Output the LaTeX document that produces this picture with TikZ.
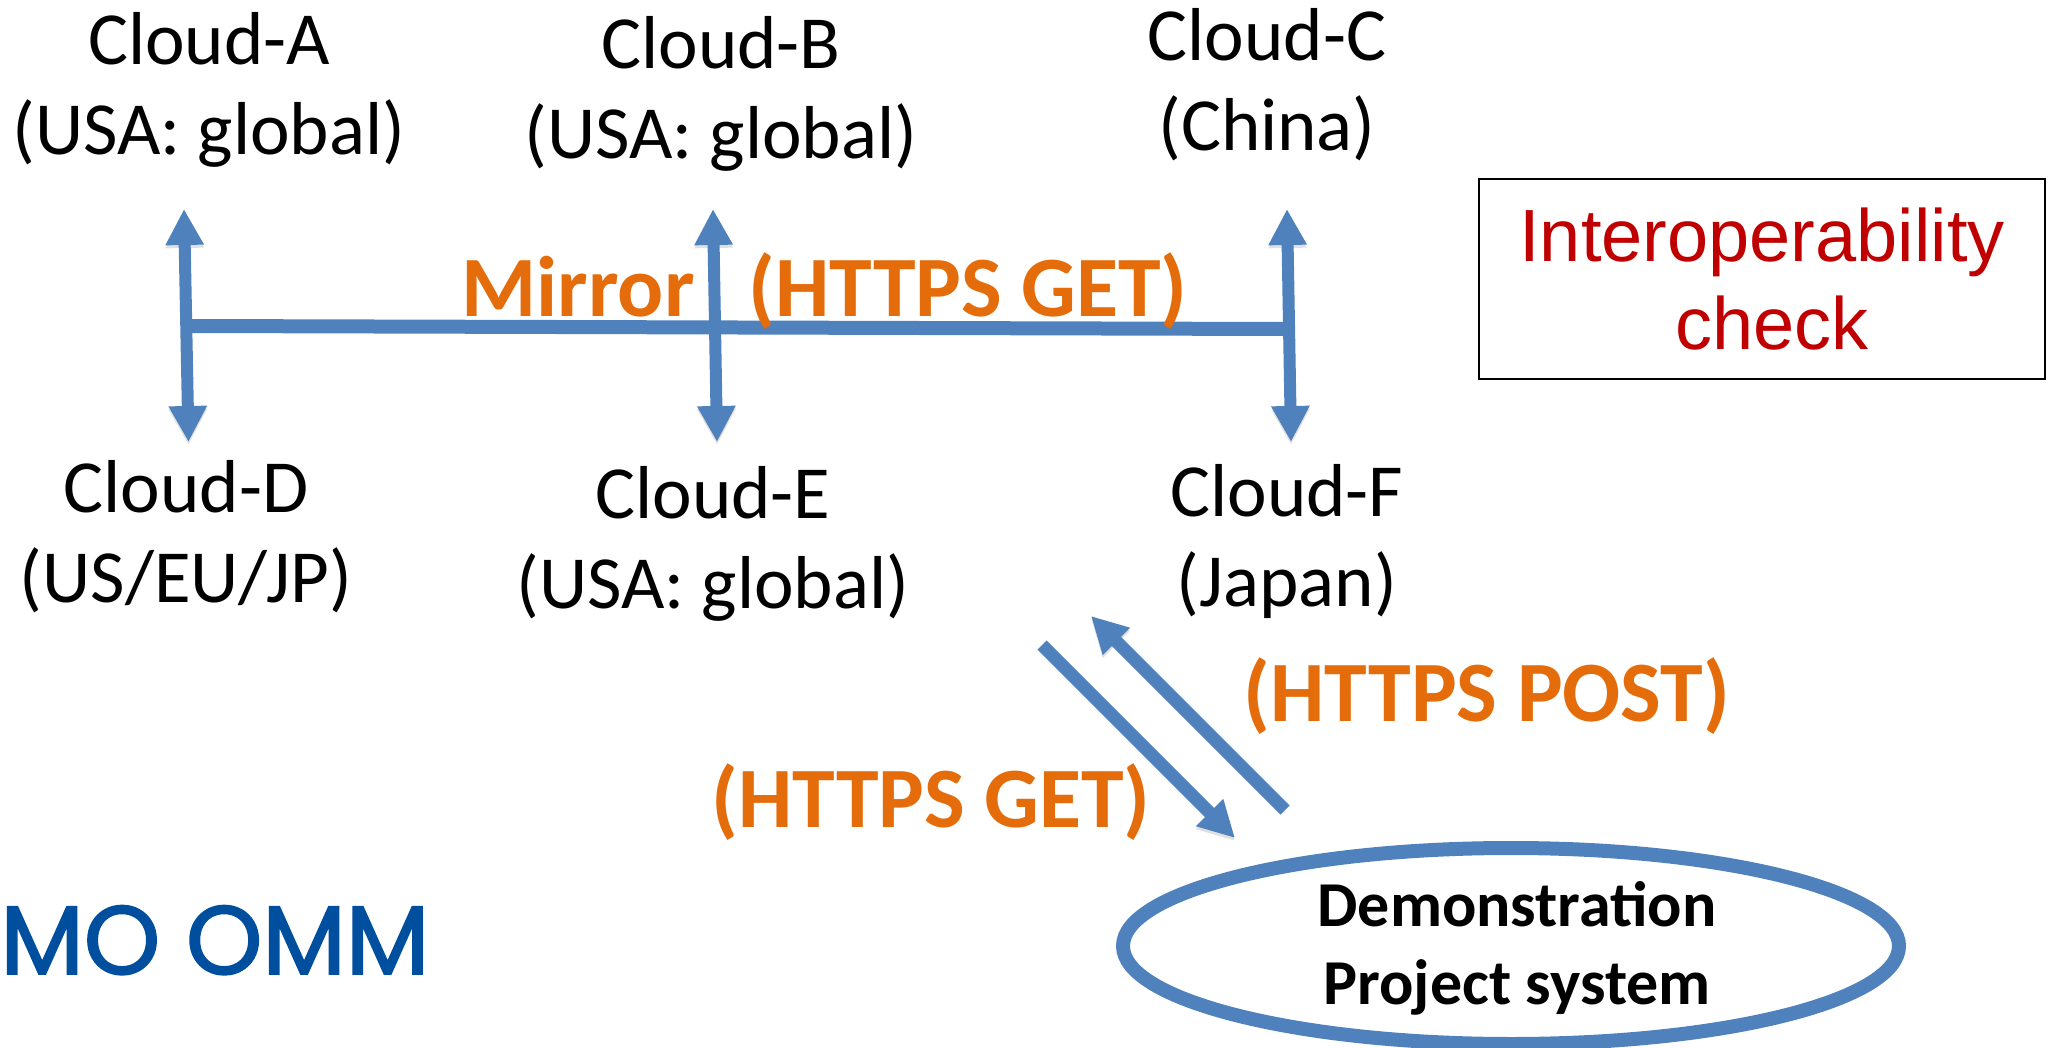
\documentclass[tikz,border=0pt]{standalone}
\usepackage{fontspec}
\setmainfont{Carlito}
\newfontfamily\logofont[FakeBold=2]{Poppins}
\newfontfamily\boxfont{Liberation Sans}
\usetikzlibrary{arrows.meta}
\definecolor{ablue}{HTML}{4F81BD}
\definecolor{aorange}{HTML}{E46C0A}
\definecolor{ared}{HTML}{C00000}
\definecolor{logoblue}{HTML}{004F9F}
\tikzset{
  x=0.5pt,y=-0.5pt,
  softshadow/.style={preaction={draw=black,opacity=.12,transform canvas={yshift=-1.5pt}}},
  cloudlabel/.style={font=\fontsize{37.5}{45}\selectfont,align=center,text=black,inner sep=0pt,anchor=center},
  orangelabel/.style={font=\bfseries\fontsize{43}{50}\selectfont,text=aorange,inner sep=0pt,anchor=base},
  conn/.style={softshadow,draw=ablue,line width=6.5pt,-{Triangle[length=18pt,width=18pt]}},
  connboth/.style={softshadow,draw=ablue,line width=6pt,{Triangle[length=18pt,width=18pt]}-{Triangle[length=18pt,width=18pt]}},
  connplain/.style={softshadow,draw=ablue,line width=7pt},
}
\begin{document}
\begin{tikzpicture}
\useasboundingbox (0,0) rectangle (2051,1048);
% cloud labels
\node[cloudlabel] (A) at (209,90) {Cloud-A\\(USA: global)};
\node[cloudlabel] (B) at (721,94) {Cloud-B\\(USA: global)};
\node[cloudlabel] (C) at (1267,85) {Cloud-C\\(China)};
\node[cloudlabel] (D) at (186,537) {Cloud-D\\(US/EU/JP)};
\node[cloudlabel] (E) at (713,544) {Cloud-E\\(USA: global)};
\node[cloudlabel] (F) at (1287,542) {Cloud-F\\(Japan)};
% arrow end points
\coordinate (at) at (184,209); \coordinate (ab) at (188.5,442);
\coordinate (bt) at (713,209); \coordinate (bb) at (717,442);
\coordinate (ct) at (1287,209); \coordinate (cb) at (1291,442);
\coordinate (hl) at (192,326); \coordinate (hr) at (1283,329);
\draw[connplain] (hl) -- (hr);
\draw[connboth] (at) -- (ab);
\draw[connboth] (bt) -- (bb);
\draw[connboth] (ct) -- (cb);
% labels over connectors
\node[orangelabel] (mirror) at (578,317) {Mirror};
\node[orangelabel] (get1) at (968,317) {(HTTPS GET)};
\node[orangelabel] (post) at (1487,721) {(HTTPS POST)};
\node[orangelabel] (get2) at (931,827) {(HTTPS GET)};
% box
\node[draw=black,line width=1.2pt,minimum width=283pt,minimum height=100pt,inner sep=0pt,font=\boxfont\fontsize{37}{44}\selectfont,text=ared,align=center] (check) at (1762,279) {Interoperability\\\hspace*{10pt}check};
% ellipse
\draw[softshadow,draw=ablue,line width=7pt] (1511,946) ellipse [x radius=388,y radius=98];
\coordinate (ell) at (1511,946);
\node[inner sep=0pt,font=\bfseries\fontsize{32}{39}\selectfont,align=center] (demo) at (1517,948) {Demonstration\\Project system};
% diagonal arrows
\coordinate (pt) at (1285,810); \coordinate (ph) at (1091,616);
\coordinate (gt) at (1042,645); \coordinate (gh) at (1235,838);
\draw[conn] (pt) -- (ph);
\draw[conn] (gt) -- (gh);
% logo
\node[inner sep=0pt,anchor=base west,font=\logofont\fontsize{48.5}{58}\selectfont,text=logoblue] (logo) at (0,974) {MO OMM};
\end{tikzpicture}
\end{document}
